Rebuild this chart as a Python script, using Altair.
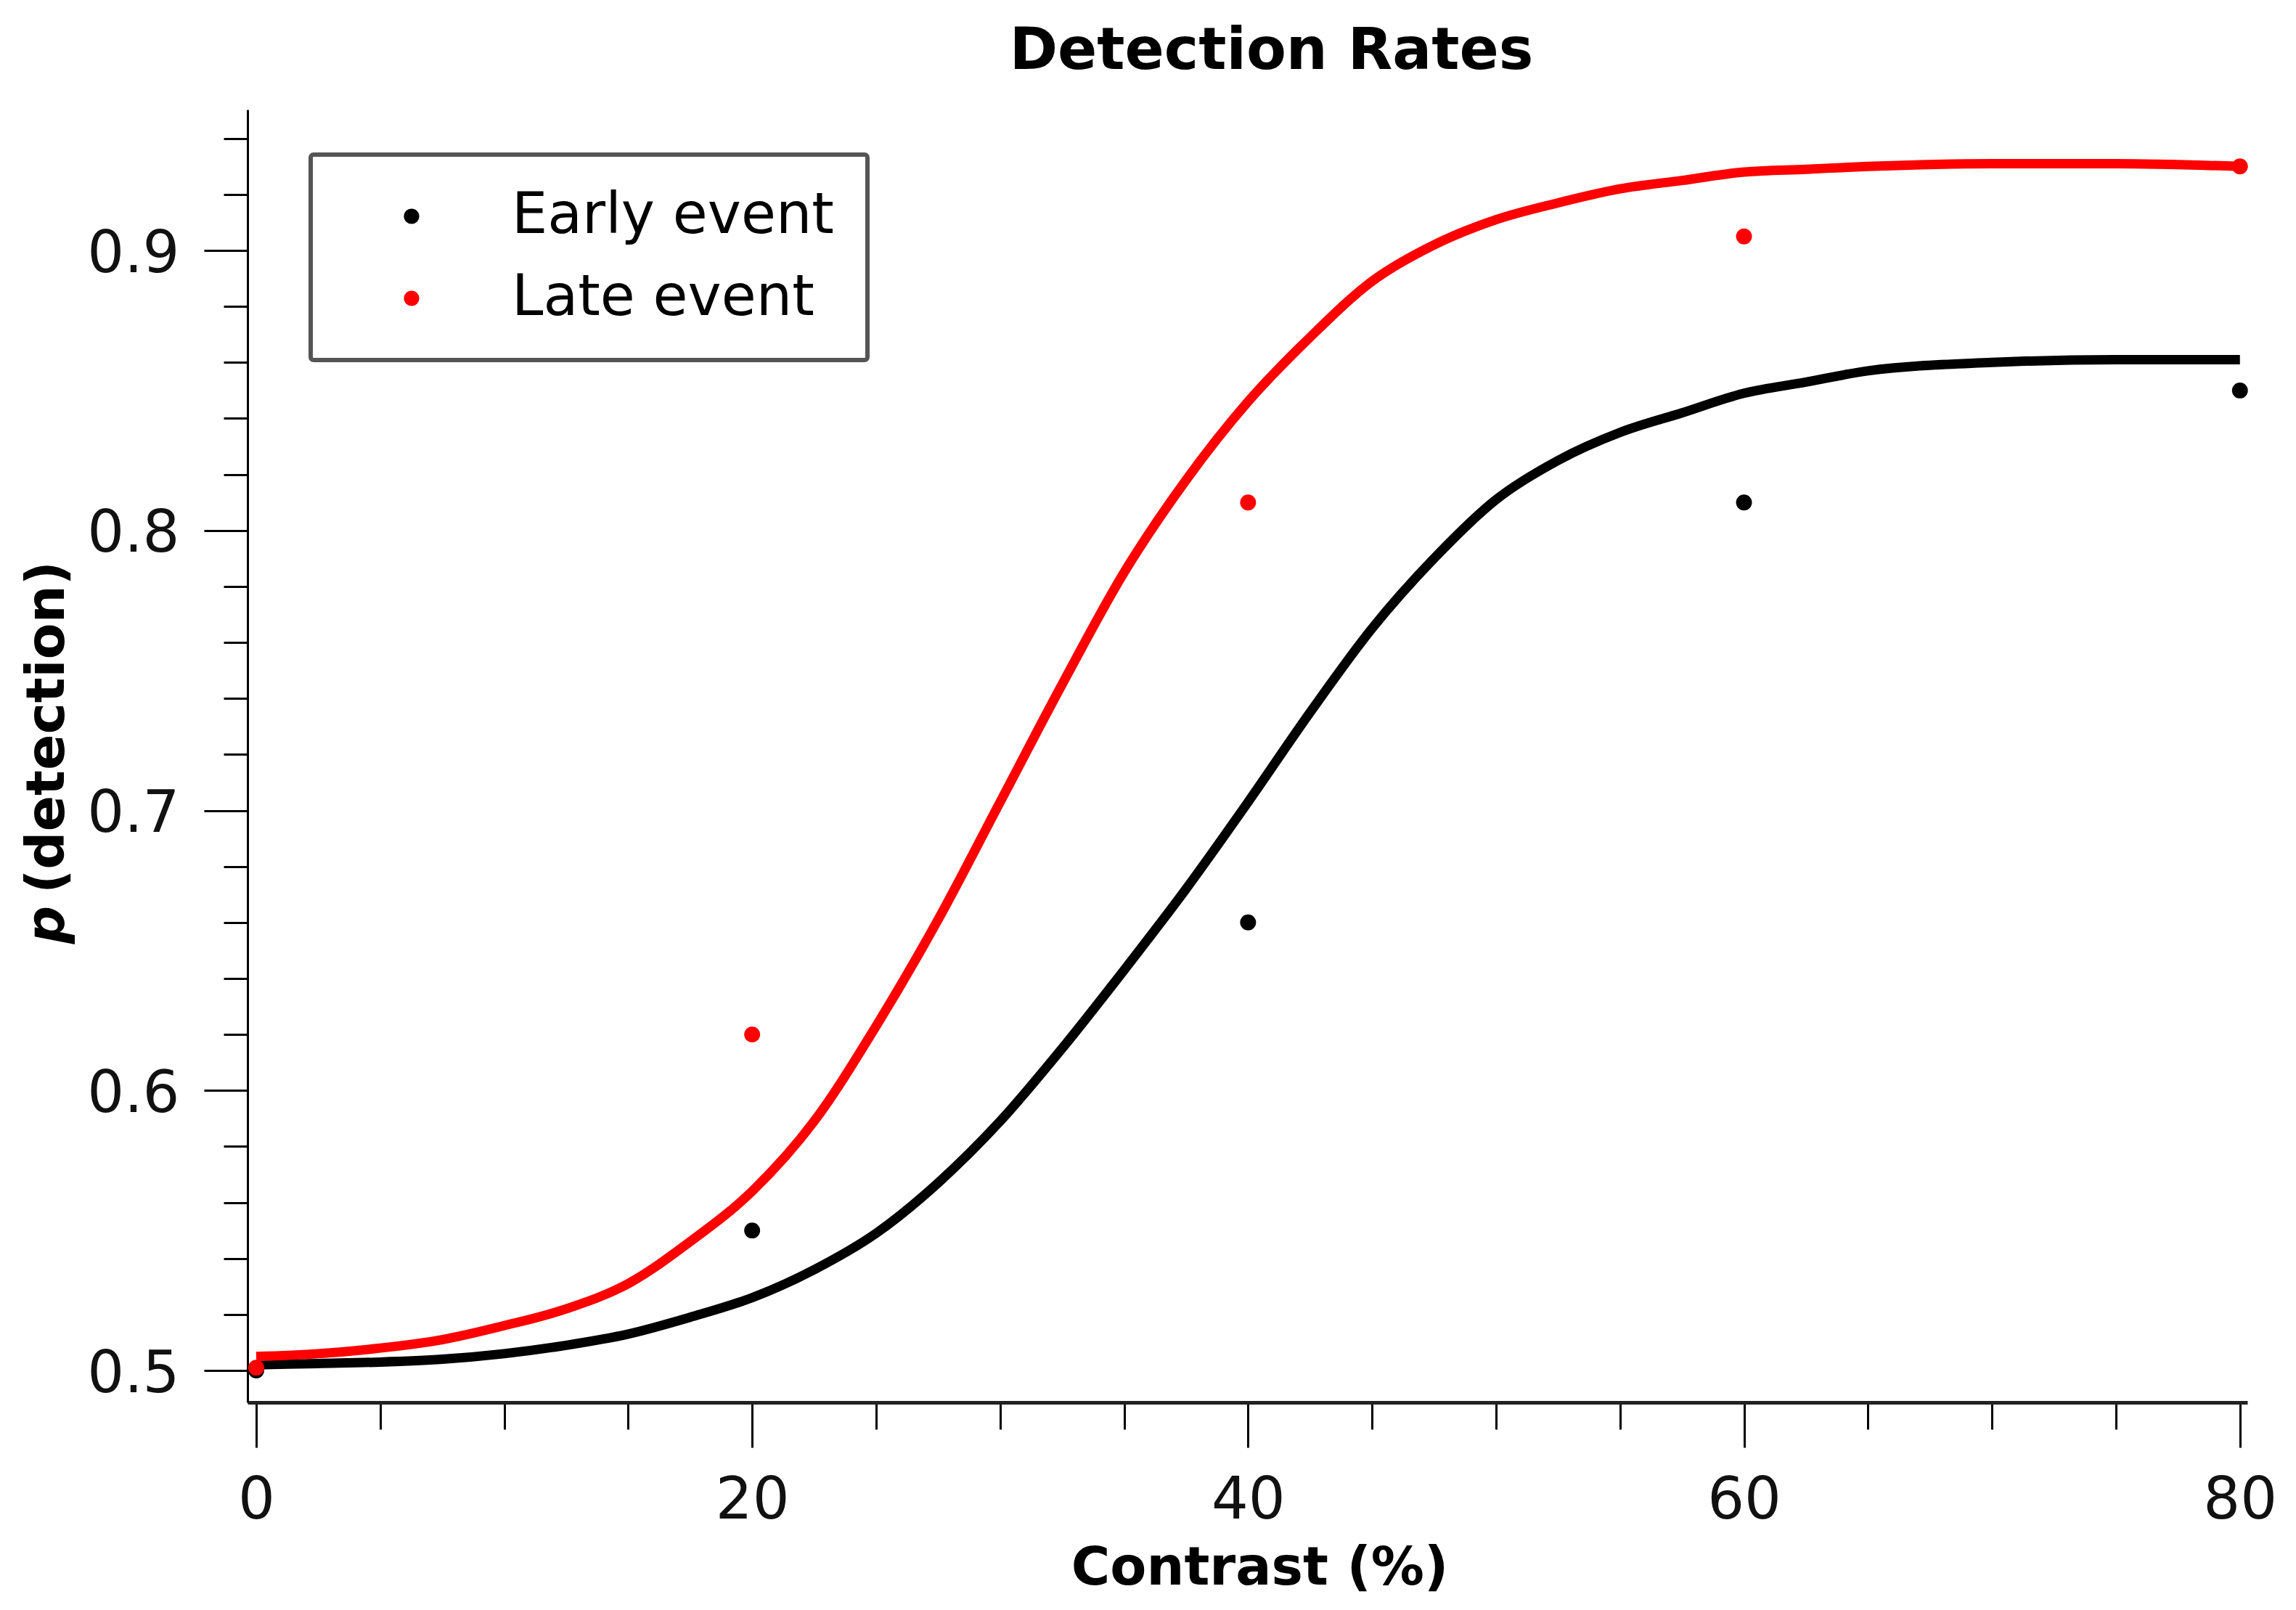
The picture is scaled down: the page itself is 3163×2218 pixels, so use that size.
import altair as alt
import pandas as pd

# ---- data ----
series_names = ["Early event", "Late event"]
colors = ["#000000", "#ff0000"]

obs_contrast = [0, 20, 40, 60, 80]
obs_early = [0.500, 0.550, 0.660, 0.810, 0.850]
obs_late = [0.501, 0.620, 0.810, 0.905, 0.930]

fit_contrast = [0, 2.5, 5, 7.5, 10, 12.5, 15, 17.5, 20, 22.5, 25, 27.5, 30, 32.5,
                35, 37.5, 40, 42.5, 45, 47.5, 50, 52.5, 55, 57.5, 60, 62.5, 65,
                70, 75, 80]
fit_early = [0.502, 0.5025, 0.503, 0.504, 0.506, 0.509, 0.513, 0.519, 0.526,
             0.536, 0.549, 0.567, 0.589, 0.615, 0.643, 0.672, 0.703, 0.735,
             0.765, 0.790, 0.811, 0.825, 0.835, 0.842, 0.849, 0.853, 0.857,
             0.860, 0.861, 0.861]
fit_late = [0.505, 0.506, 0.508, 0.511, 0.516, 0.522, 0.531, 0.546, 0.564,
            0.589, 0.623, 0.661, 0.703, 0.745, 0.785, 0.818, 0.846, 0.869,
            0.889, 0.902, 0.911, 0.917, 0.922, 0.925, 0.928, 0.929, 0.930,
            0.931, 0.931, 0.930]

x_major = [0, 20, 40, 60, 80]
x_minor = [5, 10, 15, 25, 30, 35, 45, 50, 55, 65, 70, 75]
y_major = [0.5, 0.6, 0.7, 0.8, 0.9]
y_minor = [0.52, 0.54, 0.56, 0.58, 0.62, 0.64, 0.66, 0.68, 0.72, 0.74, 0.76,
           0.78, 0.82, 0.84, 0.86, 0.88, 0.92, 0.94]

fit_df = pd.DataFrame({
    "contrast": fit_contrast * 2,
    "p": fit_early + fit_late,
    "series": [series_names[0]] * len(fit_contrast) + [series_names[1]] * len(fit_contrast),
})
obs_df = pd.DataFrame({
    "contrast": obs_contrast * 2,
    "p": obs_early + obs_late,
    "series": [series_names[0]] * len(obs_contrast) + [series_names[1]] * len(obs_contrast),
})

FONT = "DejaVu Sans"
xscale = alt.Scale(domain=[-0.35, 80.3], nice=False, zero=False)
yscale = alt.Scale(domain=[0.4886, 0.9503], nice=False, zero=False)

lines = alt.Chart(fit_df).mark_line(strokeWidth=13, interpolate="monotone").encode(
    x=alt.X("contrast:Q", scale=xscale,
            axis=alt.Axis(values=x_minor, tickSize=37, tickWidth=3, tickColor="black",
                          labels=False, domain=False, grid=False, title=None, orient="bottom")),
    y=alt.Y("p:Q", scale=yscale,
            axis=alt.Axis(values=y_minor, tickSize=33, tickWidth=3, tickColor="black",
                          labels=False, domain=False, grid=False, title=None, orient="left")),
    detail="series:N",
    color=alt.condition(alt.datum.series == series_names[1],
                        alt.value(colors[1]), alt.value(colors[0])),
)

points = alt.Chart(obs_df).mark_circle(size=480, opacity=1).encode(
    x=alt.X("contrast:Q", scale=xscale,
            axis=alt.Axis(values=x_major, format="d", tickSize=62, tickWidth=3, tickColor="black",
                          domainColor="#222222", domainWidth=5, grid=False, orient="bottom",
                          labelFont=FONT, labelFontSize=80, labelColor="#111111", labelPadding=34,
                          labelFlush=False, labelOverlap=False,
                          title="Contrast (%)", titleFont=FONT, titleFontSize=73,
                          titleFontWeight="bold", titleColor="black", titleX=1394, titleY=250,
                          titleBaseline="alphabetic", titleAlign="center")),
    y=alt.Y("p:Q", scale=yscale,
            axis=alt.Axis(values=y_major, format=".1f", tickSize=60, tickWidth=3, tickColor="black",
                          domainColor="black", domainWidth=3, grid=False, orient="left",
                          labelFont=FONT, labelFontSize=80, labelColor="#111111", labelPadding=34,
                          labelFlush=False, labelOverlap=False, labelOffset=5, title=None)),
    color=alt.Color("series:N", scale=alt.Scale(domain=series_names, range=colors),
                    legend=alt.Legend(title=None, orient="none", legendX=87, legendY=62,
                                      strokeColor="#555555", fillColor="white", padding=46,
                                      cornerRadius=4, symbolOffset=54, symbolSize=450,
                                      symbolType="circle", symbolStrokeWidth=0,
                                      labelOffset=99, rowPadding=35, labelFont=FONT,
                                      labelFontSize=78, labelColor="black", labelLimit=800)),
)

ytitle_p = alt.Chart(pd.DataFrame({"t": ["p"]})).mark_text(
    angle=270, align="center", baseline="alphabetic", font=FONT, fontSize=73,
    fontWeight="bold", fontStyle="italic", color="black"
).encode(text="t:N", x=alt.value(-253), y=alt.value(1123))

ytitle_rest = alt.Chart(pd.DataFrame({"t": ["(detection)"]})).mark_text(
    angle=270, align="center", baseline="alphabetic", font=FONT, fontSize=73,
    fontWeight="bold", color="black"
).encode(text="t:N", x=alt.value(-253), y=alt.value(851))

chart = alt.layer(lines, points, ytitle_p, ytitle_rest).resolve_axis(
    x="independent", y="independent"
).properties(
    width=2755,
    height=1781,
    autosize=alt.AutoSizeParams(type="none"),
    padding={"left": 333, "top": 143, "right": 50, "bottom": 280},
    title=alt.Title("Detection Rates", font=FONT, fontSize=80, fontWeight="bold",
                    color="black", anchor="middle", dx=33, dy=80, offset=56,
                    baseline="alphabetic"),
).configure_view(strokeWidth=0).configure_legend(strokeWidth=6)

chart.save("out.html", embed_options={"renderer": "svg", "actions": False})
